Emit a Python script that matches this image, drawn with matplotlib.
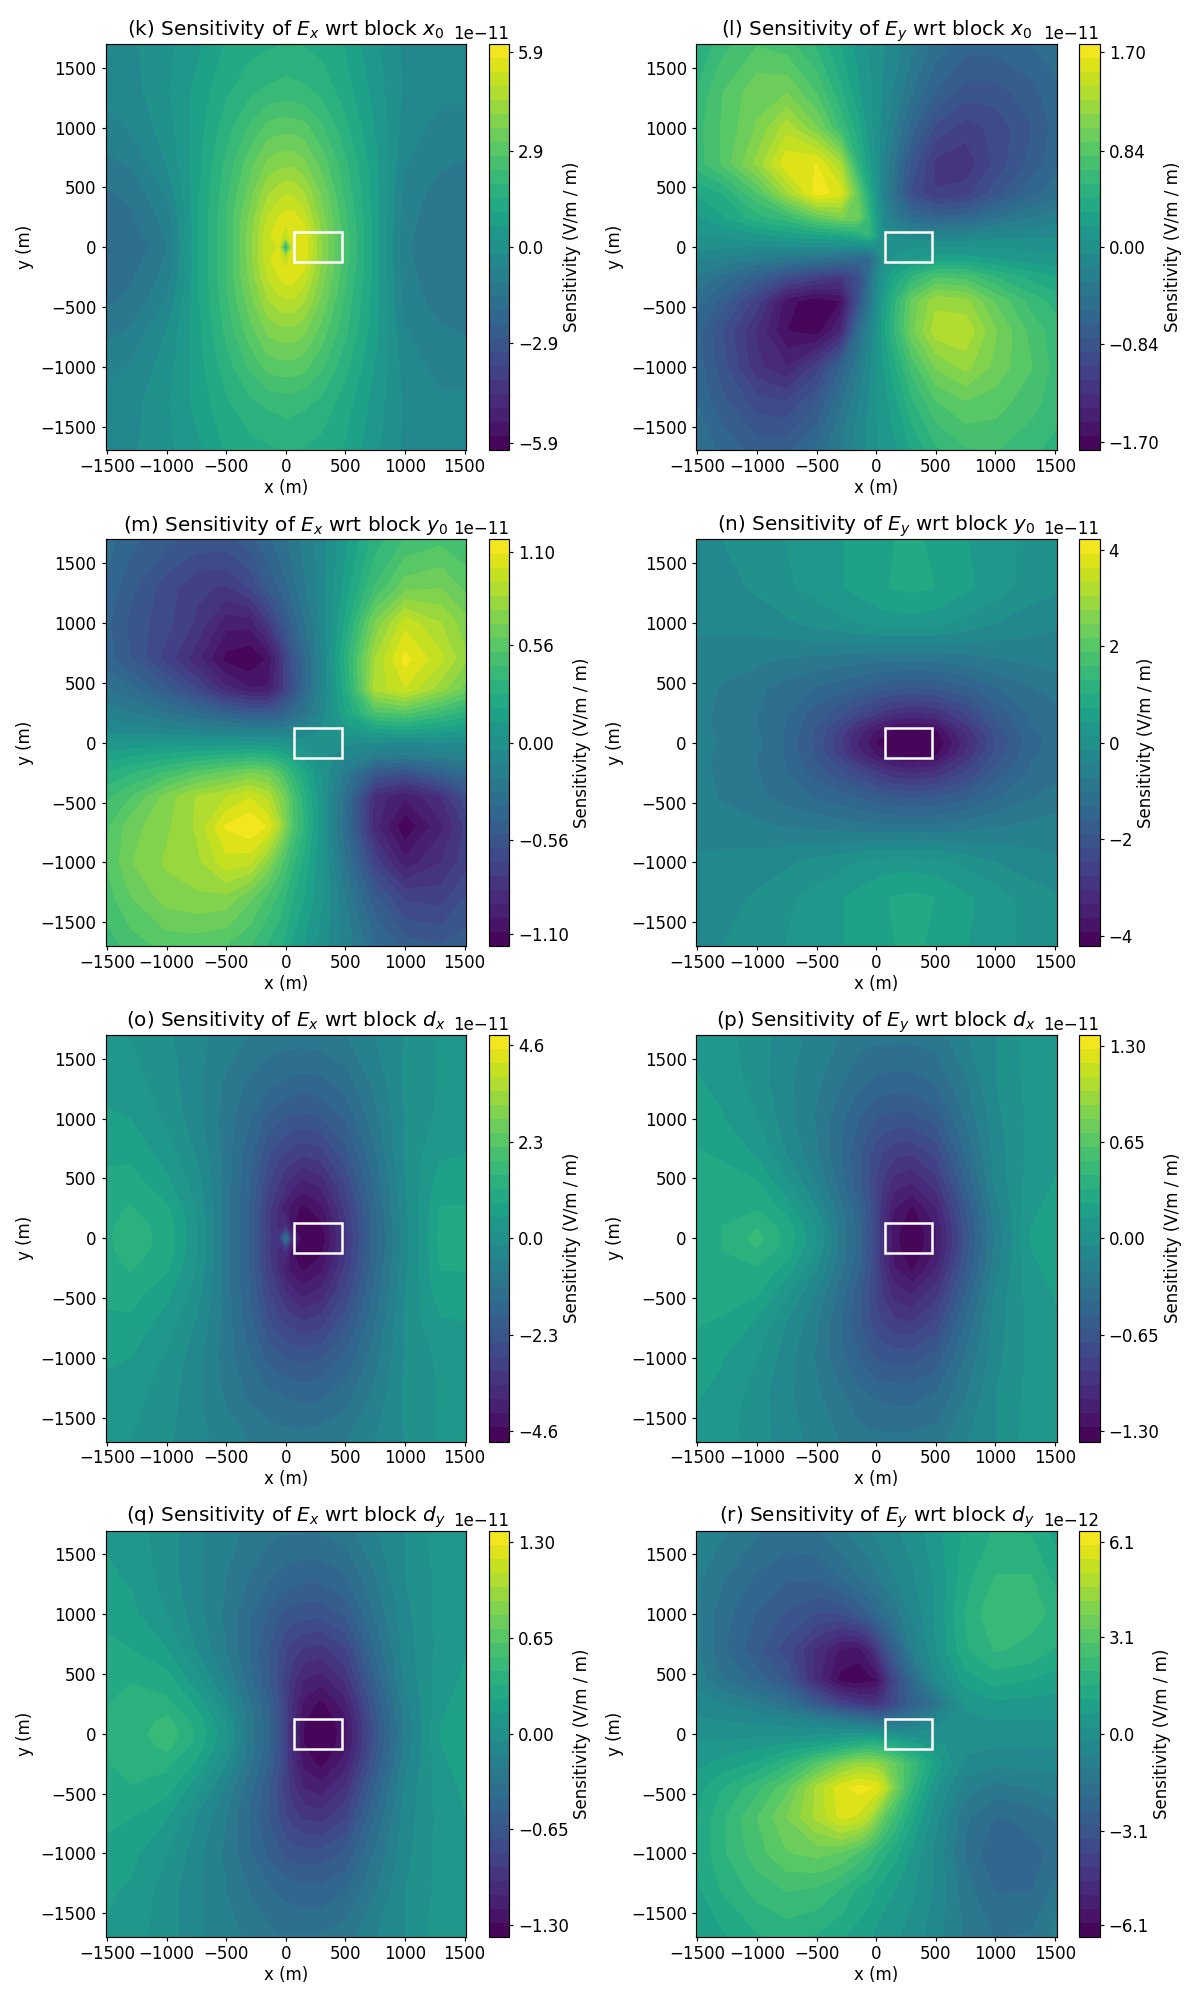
import numpy as np
import matplotlib
matplotlib.use("Agg")
import matplotlib.pyplot as plt
from matplotlib.patches import Rectangle

# sample points (m)
xs = [-1512, -1300, -1000, -750, -500, -300, -150, -60, 0, 60, 150, 300, 500, 750, 1000, 1300, 1512]
ys = [1700, 1300, 1000, 700, 450, 250, 100, 0, -100, -250, -450, -700, -1000, -1300, -1700]

# values, one row per y, in units of the panel's scale
ex_x0 = [
    [-0.45, -0.3, 0.1, 0.5, 1.1, 1.3, 1.4, 1.45, 1.5, 1.5, 1.45, 1.3, 1.0, 0.3, -0.3, -0.5, -0.5],
    [-0.5, -0.4, 0.15, 0.75, 1.4, 1.8, 2.0, 2.05, 2.1, 2.05, 2.0, 1.8, 1.25, 0.45, -0.3, -0.55, -0.55],
    [-0.8, -0.6, 0.0, 0.8, 1.7, 2.4, 2.9, 3.0, 3.0, 3.0, 2.9, 2.4, 1.6, 0.6, -0.4, -0.8, -0.8],
    [-1.2, -1.0, -0.2, 0.85, 2.0, 3.0, 3.7, 3.85, 3.9, 3.9, 3.7, 3.0, 2.0, 0.75, -0.6, -1.0, -1.1],
    [-1.55, -1.4, -0.6, 0.9, 2.2, 3.4, 4.4, 4.7, 4.8, 4.8, 4.5, 3.5, 2.2, 0.8, -0.8, -1.25, -1.3],
    [-1.6, -1.55, -0.9, 0.9, 2.3, 3.7, 4.9, 5.3, 5.5, 5.5, 5.1, 3.8, 2.4, 0.85, -0.9, -1.35, -1.4],
    [-1.65, -1.75, -1.0, 0.9, 2.3, 3.8, 5.2, 5.5, 5.0, 5.6, 5.6, 4.0, 2.5, 0.85, -0.95, -1.4, -1.45],
    [-1.65, -1.95, -1.1, 0.9, 2.3, 3.8, 5.2, 5.3, 1.2, 5.4, 5.7, 4.0, 2.5, 0.85, -1.0, -1.4, -1.45],
    [-1.65, -1.75, -1.0, 0.9, 2.3, 3.8, 5.2, 5.5, 5.0, 5.6, 5.6, 4.0, 2.5, 0.85, -0.95, -1.4, -1.45],
    [-1.6, -1.55, -0.9, 0.9, 2.3, 3.7, 4.9, 5.3, 5.5, 5.5, 5.1, 3.8, 2.4, 0.85, -0.9, -1.35, -1.4],
    [-1.55, -1.4, -0.6, 0.9, 2.2, 3.4, 4.4, 4.7, 4.8, 4.8, 4.5, 3.5, 2.2, 0.8, -0.8, -1.25, -1.3],
    [-1.2, -1.0, -0.2, 0.85, 2.0, 3.0, 3.7, 3.85, 3.9, 3.9, 3.7, 3.0, 2.0, 0.75, -0.6, -1.0, -1.1],
    [-0.8, -0.6, 0.0, 0.8, 1.7, 2.4, 2.9, 3.0, 3.0, 3.0, 2.9, 2.4, 1.6, 0.6, -0.4, -0.8, -0.8],
    [-0.5, -0.4, 0.15, 0.75, 1.4, 1.8, 2.0, 2.05, 2.1, 2.05, 2.0, 1.8, 1.25, 0.45, -0.3, -0.55, -0.55],
    [-0.45, -0.3, 0.1, 0.5, 1.1, 1.3, 1.4, 1.45, 1.5, 1.5, 1.45, 1.3, 1.0, 0.3, -0.3, -0.5, -0.5],
]
ey_x0 = [
    [0.40, 0.62, 0.78, 0.72, 0.52, 0.30, 0.14, 0.05, 0.0, -0.05, -0.12, -0.28, -0.48, -0.62, -0.62, -0.55, -0.48],
    [0.55, 0.78, 1.0, 1.02, 0.78, 0.45, 0.2, 0.08, 0.0, -0.08, -0.2, -0.42, -0.68, -0.85, -0.85, -0.72, -0.58],
    [0.62, 0.8, 1.05, 1.35, 1.05, 0.64, 0.35, 0.12, 0.0, -0.12, -0.3, -0.62, -0.95, -1.1, -1.0, -0.8, -0.62],
    [0.6, 0.8, 1.2, 1.62, 1.65, 1.3, 0.5, 0.2, 0.02, -0.18, -0.42, -0.85, -1.2, -1.25, -1.0, -0.75, -0.58],
    [0.32, 0.42, 0.78, 1.25, 1.7, 1.6, 0.9, 0.4, 0.1, -0.2, -0.5, -0.95, -1.15, -1.1, -0.85, -0.6, -0.48],
    [0.15, 0.28, 0.5, 0.62, 0.9, 1.05, 1.0, 0.55, 0.2, -0.1, -0.32, -0.55, -0.65, -0.62, -0.45, -0.32, -0.25],
    [0.05, 0.08, 0.15, 0.22, 0.28, 0.32, 0.4, 0.55, 0.25, -0.03, -0.07, -0.12, -0.18, -0.18, -0.12, -0.1, -0.08],
    [-0.05, -0.05, -0.08, -0.08, -0.08, -0.08, -0.1, -0.1, 0.0, 0.0, 0.0, 0.05, 0.05, 0.05, 0.05, 0.03, 0.02],
    [-0.18, -0.22, -0.3, -0.38, -0.45, -0.5, -0.6, -0.65, -0.3, 0.0, 0.08, 0.15, 0.25, 0.25, 0.18, 0.12, 0.1],
    [-0.32, -0.48, -0.72, -0.95, -1.1, -1.2, -0.95, -0.5, -0.15, 0.1, 0.3, 0.55, 0.78, 0.75, 0.55, 0.38, 0.3],
    [-0.5, -0.72, -1.1, -1.6, -1.74, -1.65, -0.9, -0.4, -0.1, 0.2, 0.5, 0.95, 1.25, 1.2, 0.9, 0.62, 0.5],
    [-0.62, -0.9, -1.3, -1.65, -1.72, -1.4, -0.55, -0.2, 0.02, 0.25, 0.55, 1.0, 1.35, 1.38, 1.05, 0.75, 0.6],
    [-0.6, -0.85, -1.25, -1.4, -1.1, -0.68, -0.32, -0.1, 0.05, 0.18, 0.38, 0.72, 1.05, 1.2, 1.0, 0.8, 0.62],
    [-0.55, -0.75, -0.98, -1.02, -0.8, -0.45, -0.18, -0.05, 0.05, 0.12, 0.25, 0.52, 0.78, 0.9, 0.85, 0.72, 0.6],
    [-0.42, -0.58, -0.72, -0.7, -0.52, -0.3, -0.12, -0.02, 0.05, 0.08, 0.15, 0.32, 0.52, 0.65, 0.68, 0.58, 0.5],
]
ex_y0 = [
    [-0.32, -0.42, -0.5, -0.55, -0.55, -0.48, -0.38, -0.32, -0.28, -0.24, -0.18, -0.08, 0.1, 0.32, 0.45, 0.5, 0.45],
    [-0.38, -0.5, -0.65, -0.75, -0.78, -0.68, -0.52, -0.44, -0.38, -0.32, -0.22, -0.08, 0.15, 0.45, 0.65, 0.68, 0.58],
    [-0.42, -0.55, -0.66, -0.78, -0.98, -0.98, -0.78, -0.62, -0.52, -0.42, -0.3, -0.1, 0.22, 0.7, 0.98, 0.85, 0.72],
    [-0.4, -0.52, -0.72, -0.9, -1.12, -1.16, -1.08, -0.88, -0.72, -0.58, -0.4, -0.12, 0.3, 0.85, 1.12, 0.95, 0.78],
    [-0.28, -0.35, -0.5, -0.68, -0.9, -1.0, -1.0, -0.85, -0.72, -0.6, -0.42, -0.12, 0.25, 0.88, 1.0, 0.8, 0.65],
    [-0.15, -0.2, -0.28, -0.35, -0.45, -0.52, -0.52, -0.48, -0.42, -0.36, -0.28, -0.1, 0.2, 0.5, 0.55, 0.42, 0.32],
    [-0.06, -0.08, -0.1, -0.12, -0.14, -0.16, -0.16, -0.16, -0.15, -0.13, -0.1, -0.04, 0.08, 0.15, 0.18, 0.14, 0.12],
    [0.06, 0.06, 0.06, 0.06, 0.06, 0.06, 0.05, 0.04, 0.02, 0.01, 0.0, -0.02, -0.03, -0.05, -0.06, -0.05, -0.04],
    [0.15, 0.18, 0.22, 0.25, 0.28, 0.3, 0.28, 0.24, 0.2, 0.15, 0.08, 0.0, -0.08, -0.18, -0.2, -0.16, -0.13],
    [0.28, 0.35, 0.45, 0.55, 0.62, 0.68, 0.65, 0.55, 0.45, 0.35, 0.22, 0.03, -0.22, -0.52, -0.6, -0.45, -0.35],
    [0.42, 0.52, 0.72, 0.85, 0.92, 1.0, 0.9, 0.75, 0.65, 0.5, 0.32, 0.05, -0.32, -0.88, -1.0, -0.85, -0.62],
    [0.5, 0.65, 0.75, 0.86, 1.1, 1.16, 1.08, 0.88, 0.7, 0.52, 0.36, 0.05, -0.35, -0.9, -1.16, -0.95, -0.75],
    [0.52, 0.68, 0.78, 0.82, 0.98, 0.95, 0.75, 0.58, 0.48, 0.38, 0.26, 0.05, -0.28, -0.72, -0.98, -0.85, -0.72],
    [0.48, 0.6, 0.72, 0.75, 0.74, 0.62, 0.5, 0.42, 0.35, 0.28, 0.2, 0.05, -0.2, -0.5, -0.7, -0.72, -0.6],
    [0.4, 0.48, 0.55, 0.55, 0.52, 0.45, 0.35, 0.3, 0.25, 0.18, 0.12, 0.0, -0.15, -0.35, -0.48, -0.52, -0.48],
]
ey_y0 = [
    [-0.2, -0.15, 0.05, 0.15, 0.3, 0.42, 0.5, 0.55, 0.6, 0.65, 0.72, 0.8, 0.65, 0.45, 0.28, 0.05, -0.05],
    [-0.3, -0.25, -0.1, 0.1, 0.25, 0.4, 0.55, 0.6, 0.65, 0.7, 0.75, 0.8, 0.72, 0.5, 0.3, 0.0, -0.1],
    [-0.35, -0.35, -0.3, -0.2, -0.05, 0.05, 0.15, 0.2, 0.25, 0.28, 0.3, 0.3, 0.25, 0.05, -0.15, -0.3, -0.4],
    [-0.6, -0.6, -0.65, -0.75, -0.8, -0.85, -0.9, -0.92, -0.95, -0.95, -0.95, -0.95, -0.95, -0.85, -0.75, -0.65, -0.6],
    [-0.6, -0.75, -0.95, -1.15, -1.35, -1.5, -1.65, -1.72, -1.8, -1.85, -1.9, -1.95, -1.9, -1.7, -1.35, -1.05, -0.9],
    [-0.6, -0.8, -1.0, -1.3, -1.75, -2.1, -2.4, -2.55, -2.7, -2.85, -3.0, -3.1, -3.0, -2.45, -1.8, -1.25, -1.1],
    [-0.6, -0.8, -1.0, -1.35, -1.95, -2.6, -3.2, -3.5, -3.7, -3.85, -4.0, -4.1, -4.0, -3.0, -2.1, -1.35, -1.2],
    [-0.6, -0.75, -0.95, -1.35, -2.0, -2.7, -3.4, -3.7, -3.95, -4.05, -4.2, -4.2, -4.2, -3.2, -2.2, -1.4, -1.2],
    [-0.6, -0.8, -1.0, -1.35, -1.95, -2.6, -3.2, -3.5, -3.7, -3.85, -4.0, -4.1, -4.0, -3.0, -2.1, -1.35, -1.2],
    [-0.6, -0.8, -1.0, -1.3, -1.75, -2.1, -2.4, -2.55, -2.7, -2.85, -3.0, -3.1, -3.0, -2.45, -1.8, -1.25, -1.1],
    [-0.6, -0.75, -0.95, -1.15, -1.35, -1.5, -1.65, -1.72, -1.8, -1.85, -1.9, -1.95, -1.9, -1.7, -1.35, -1.05, -0.9],
    [-0.6, -0.6, -0.65, -0.75, -0.8, -0.85, -0.9, -0.92, -0.95, -0.95, -0.95, -0.95, -0.95, -0.85, -0.75, -0.65, -0.6],
    [-0.35, -0.35, -0.3, -0.2, -0.05, 0.05, 0.15, 0.2, 0.25, 0.28, 0.3, 0.3, 0.25, 0.05, -0.15, -0.3, -0.4],
    [-0.3, -0.25, -0.1, 0.1, 0.25, 0.4, 0.55, 0.6, 0.65, 0.7, 0.75, 0.8, 0.72, 0.5, 0.3, 0.0, -0.1],
    [-0.2, -0.15, 0.05, 0.15, 0.3, 0.42, 0.5, 0.55, 0.6, 0.65, 0.72, 0.8, 0.65, 0.45, 0.28, 0.05, -0.05],
]
ex_dx = [
    [0.2, 0.15, -0.1, -0.4, -0.65, -0.85, -0.95, -1.0, -1.0, -1.0, -1.0, -0.95, -0.85, -0.5, -0.15, 0.2, 0.2],
    [0.4, 0.3, 0.0, -0.4, -0.9, -1.25, -1.45, -1.5, -1.55, -1.6, -1.65, -1.6, -1.35, -0.75, -0.1, 0.2, 0.2],
    [0.55, 0.5, 0.1, -0.35, -1.0, -1.5, -1.95, -2.1, -2.2, -2.25, -2.3, -2.2, -1.8, -0.95, -0.15, 0.25, 0.3],
    [0.75, 0.75, 0.35, -0.2, -1.0, -1.75, -2.45, -2.75, -2.9, -3.0, -3.15, -3.0, -2.3, -1.2, -0.1, 0.45, 0.5],
    [0.95, 1.0, 0.6, 0.0, -1.0, -1.85, -2.8, -3.2, -3.5, -3.75, -4.0, -3.75, -2.8, -1.4, -0.2, 0.7, 0.75],
    [1.05, 1.2, 0.9, 0.15, -1.0, -1.9, -3.0, -3.6, -4.1, -4.4, -4.6, -4.3, -3.1, -1.55, -0.25, 0.85, 0.85],
    [1.1, 1.3, 1.05, 0.2, -1.0, -1.9, -3.1, -3.6, -3.5, -4.5, -4.8, -4.6, -3.25, -1.6, -0.3, 0.9, 0.9],
    [1.1, 1.35, 1.05, 0.2, -1.0, -1.9, -3.1, -3.4, -1.2, -3.8, -4.8, -4.8, -3.3, -1.6, -0.3, 0.95, 0.9],
    [1.1, 1.3, 1.05, 0.2, -1.0, -1.9, -3.1, -3.6, -3.5, -4.5, -4.8, -4.6, -3.25, -1.6, -0.3, 0.9, 0.9],
    [1.05, 1.2, 0.9, 0.15, -1.0, -1.9, -3.0, -3.6, -4.1, -4.4, -4.6, -4.3, -3.1, -1.55, -0.25, 0.85, 0.85],
    [0.95, 1.0, 0.6, 0.0, -1.0, -1.85, -2.8, -3.2, -3.5, -3.75, -4.0, -3.75, -2.8, -1.4, -0.2, 0.7, 0.75],
    [0.75, 0.75, 0.35, -0.2, -1.0, -1.75, -2.45, -2.75, -2.9, -3.0, -3.15, -3.0, -2.3, -1.2, -0.1, 0.45, 0.5],
    [0.55, 0.5, 0.1, -0.35, -1.0, -1.5, -1.95, -2.1, -2.2, -2.25, -2.3, -2.2, -1.8, -0.95, -0.15, 0.25, 0.3],
    [0.4, 0.3, 0.0, -0.4, -0.9, -1.25, -1.45, -1.5, -1.55, -1.6, -1.65, -1.6, -1.35, -0.75, -0.1, 0.2, 0.2],
    [0.2, 0.15, -0.1, -0.4, -0.65, -0.85, -0.95, -1.0, -1.0, -1.0, -1.0, -0.95, -0.85, -0.5, -0.15, 0.2, 0.2],
]
ey_dx = [
    [0.12, 0.08, 0.0, -0.1, -0.18, -0.24, -0.28, -0.3, -0.3, -0.3, -0.3, -0.3, -0.28, -0.15, -0.05, 0.1, 0.1],
    [0.15, 0.12, 0.0, -0.12, -0.22, -0.32, -0.4, -0.43, -0.45, -0.46, -0.47, -0.47, -0.42, -0.25, -0.05, 0.08, 0.1],
    [0.18, 0.15, 0.05, -0.1, -0.25, -0.4, -0.52, -0.58, -0.62, -0.64, -0.65, -0.65, -0.58, -0.32, -0.08, 0.08, 0.13],
    [0.25, 0.22, 0.13, -0.05, -0.22, -0.42, -0.6, -0.7, -0.77, -0.82, -0.88, -0.9, -0.78, -0.42, -0.1, 0.08, 0.13],
    [0.3, 0.3, 0.25, 0.07, -0.15, -0.38, -0.58, -0.72, -0.82, -0.92, -1.05, -1.1, -0.95, -0.52, -0.12, 0.1, 0.15],
    [0.3, 0.32, 0.32, 0.2, -0.05, -0.3, -0.5, -0.68, -0.82, -0.98, -1.18, -1.3, -1.1, -0.62, -0.18, 0.12, 0.18],
    [0.3, 0.33, 0.42, 0.28, 0.03, -0.27, -0.46, -0.66, -0.82, -1.0, -1.23, -1.36, -1.18, -0.66, -0.2, 0.14, 0.19],
    [0.3, 0.33, 0.46, 0.3, 0.05, -0.27, -0.46, -0.65, -0.82, -1.0, -1.25, -1.37, -1.2, -0.68, -0.22, 0.15, 0.2],
    [0.3, 0.33, 0.42, 0.28, 0.03, -0.27, -0.46, -0.66, -0.82, -1.0, -1.23, -1.36, -1.18, -0.66, -0.2, 0.14, 0.19],
    [0.3, 0.32, 0.32, 0.2, -0.05, -0.3, -0.5, -0.68, -0.82, -0.98, -1.18, -1.3, -1.1, -0.62, -0.18, 0.12, 0.18],
    [0.3, 0.3, 0.25, 0.07, -0.15, -0.38, -0.58, -0.72, -0.82, -0.92, -1.05, -1.1, -0.95, -0.52, -0.12, 0.1, 0.15],
    [0.25, 0.22, 0.13, -0.05, -0.22, -0.42, -0.6, -0.7, -0.77, -0.82, -0.88, -0.9, -0.78, -0.42, -0.1, 0.08, 0.13],
    [0.18, 0.15, 0.05, -0.1, -0.25, -0.4, -0.52, -0.58, -0.62, -0.64, -0.65, -0.65, -0.58, -0.32, -0.08, 0.08, 0.13],
    [0.15, 0.12, 0.0, -0.12, -0.22, -0.32, -0.4, -0.43, -0.45, -0.46, -0.47, -0.47, -0.42, -0.25, -0.05, 0.08, 0.1],
    [0.12, 0.08, 0.0, -0.1, -0.18, -0.24, -0.28, -0.3, -0.3, -0.3, -0.3, -0.3, -0.28, -0.15, -0.05, 0.1, 0.1],
]
ex_dy = [
    [0.13, 0.09, 0.0, -0.12, -0.2, -0.26, -0.3, -0.32, -0.32, -0.32, -0.32, -0.32, -0.28, -0.15, -0.05, 0.1, 0.1],
    [0.16, 0.13, 0.0, -0.12, -0.24, -0.34, -0.42, -0.45, -0.47, -0.48, -0.5, -0.5, -0.44, -0.25, -0.05, 0.08, 0.1],
    [0.2, 0.17, 0.05, -0.1, -0.26, -0.42, -0.54, -0.6, -0.65, -0.67, -0.68, -0.68, -0.6, -0.32, -0.08, 0.08, 0.14],
    [0.27, 0.24, 0.15, -0.05, -0.24, -0.44, -0.62, -0.72, -0.8, -0.86, -0.92, -0.95, -0.82, -0.42, -0.1, 0.08, 0.14],
    [0.32, 0.33, 0.28, 0.08, -0.16, -0.4, -0.6, -0.75, -0.86, -0.97, -1.1, -1.15, -0.98, -0.52, -0.12, 0.1, 0.16],
    [0.33, 0.35, 0.36, 0.22, -0.05, -0.32, -0.52, -0.7, -0.86, -1.02, -1.22, -1.32, -1.14, -0.62, -0.18, 0.12, 0.19],
    [0.33, 0.36, 0.46, 0.3, 0.04, -0.28, -0.48, -0.68, -0.86, -1.05, -1.28, -1.38, -1.22, -0.66, -0.2, 0.14, 0.2],
    [0.33, 0.36, 0.5, 0.32, 0.06, -0.28, -0.48, -0.68, -0.86, -1.05, -1.3, -1.38, -1.24, -0.68, -0.22, 0.15, 0.21],
    [0.33, 0.36, 0.46, 0.3, 0.04, -0.28, -0.48, -0.68, -0.86, -1.05, -1.28, -1.38, -1.22, -0.66, -0.2, 0.14, 0.2],
    [0.33, 0.35, 0.36, 0.22, -0.05, -0.32, -0.52, -0.7, -0.86, -1.02, -1.22, -1.32, -1.14, -0.62, -0.18, 0.12, 0.19],
    [0.32, 0.33, 0.28, 0.08, -0.16, -0.4, -0.6, -0.75, -0.86, -0.97, -1.1, -1.15, -0.98, -0.52, -0.12, 0.1, 0.16],
    [0.27, 0.24, 0.15, -0.05, -0.24, -0.44, -0.62, -0.72, -0.8, -0.86, -0.92, -0.95, -0.82, -0.42, -0.1, 0.08, 0.14],
    [0.2, 0.17, 0.05, -0.1, -0.26, -0.42, -0.54, -0.6, -0.65, -0.67, -0.68, -0.68, -0.6, -0.32, -0.08, 0.08, 0.14],
    [0.16, 0.13, 0.0, -0.12, -0.24, -0.34, -0.42, -0.45, -0.47, -0.48, -0.5, -0.5, -0.44, -0.25, -0.05, 0.08, 0.1],
    [0.13, 0.09, 0.0, -0.12, -0.2, -0.26, -0.3, -0.32, -0.32, -0.32, -0.32, -0.32, -0.28, -0.15, -0.05, 0.1, 0.1],
]
ey_dy = [
    [-0.6, -1.0, -1.5, -1.7, -1.6, -1.2, -0.9, -0.75, -0.6, -0.45, -0.3, -0.05, 0.5, 1.2, 1.6, 1.5, 0.9],
    [-1.0, -1.5, -2.1, -2.4, -2.4, -2.0, -1.6, -1.4, -1.2, -1.0, -0.7, -0.3, 0.3, 1.4, 2.05, 2.05, 1.4],
    [-1.0, -1.8, -2.5, -3.0, -3.4, -3.4, -2.9, -2.5, -2.1, -1.8, -1.4, -0.6, 0.3, 1.6, 2.45, 2.15, 1.9],
    [-1.0, -1.9, -2.8, -3.6, -4.8, -5.7, -5.8, -5.2, -4.4, -3.6, -2.6, -1.0, 0.2, 1.5, 2.05, 1.9, 1.5],
    [-0.85, -1.5, -2.2, -3.0, -4.9, -6.2, -6.4, -6.2, -6.1, -5.2, -3.8, -2.1, -0.3, 0.9, 1.3, 1.1, 0.9],
    [-0.4, -0.65, -1.1, -1.7, -2.9, -3.9, -4.3, -4.5, -4.5, -4.2, -3.6, -2.6, -1.6, 0.3, 0.55, 0.5, 0.45],
    [-0.15, -0.2, -0.3, -0.45, -0.7, -0.95, -1.3, -1.5, -1.7, -1.75, -1.6, -1.2, -0.4, 0.1, 0.2, 0.2, 0.2],
    [0.05, 0.05, 0.1, 0.1, 0.15, 0.2, 0.3, 0.3, 0.2, 0.12, 0.05, -0.1, -0.05, 0.0, 0.0, 0.0, 0.0],
    [0.3, 0.35, 0.55, 0.75, 1.0, 1.4, 1.8, 2.0, 1.9, 1.8, 1.5, 1.0, 0.35, -0.1, -0.2, -0.2, -0.2],
    [0.55, 0.8, 1.2, 1.9, 3.0, 3.9, 4.4, 4.4, 4.3, 4.0, 3.4, 2.4, 0.9, -0.35, -0.55, -0.5, -0.5],
    [0.9, 1.5, 2.3, 3.2, 4.8, 5.9, 6.2, 6.1, 6.0, 5.4, 3.9, 2.0, 0.3, -0.9, -1.3, -1.1, -0.9],
    [1.05, 1.9, 2.9, 3.8, 4.8, 5.7, 5.5, 4.9, 4.1, 3.3, 2.5, 1.2, -0.1, -1.5, -2.05, -1.9, -1.5],
    [1.1, 1.9, 2.7, 3.3, 3.5, 3.3, 2.8, 2.4, 2.0, 1.7, 1.3, 0.6, -0.35, -1.6, -2.45, -2.15, -1.9],
    [1.0, 1.6, 2.2, 2.5, 2.4, 2.0, 1.5, 1.3, 1.1, 0.9, 0.7, 0.3, -0.3, -1.4, -2.05, -2.05, -1.4],
    [0.6, 1.0, 1.5, 1.7, 1.5, 1.2, 0.9, 0.75, 0.55, 0.4, 0.3, 0.05, -0.5, -1.2, -1.6, -1.5, -0.9],
]

titles = [
    r"(k) Sensitivity of $E_x$ wrt block $x_0$",
    r"(l) Sensitivity of $E_y$ wrt block $x_0$",
    r"(m) Sensitivity of $E_x$ wrt block $y_0$",
    r"(n) Sensitivity of $E_y$ wrt block $y_0$",
    r"(o) Sensitivity of $E_x$ wrt block $d_x$",
    r"(p) Sensitivity of $E_y$ wrt block $d_x$",
    r"(q) Sensitivity of $E_x$ wrt block $d_y$",
    r"(r) Sensitivity of $E_y$ wrt block $d_y$",
]
fields = [ex_x0, ey_x0, ex_y0, ey_y0, ex_dx, ey_dx, ex_dy, ey_dy]
scales = [1e-11, 1e-11, 1e-11, 1e-11, 1e-11, 1e-11, 1e-11, 1e-12]
vmaxs = [6.14, 1.77, 1.17, 4.21, 4.85, 1.372, 1.38, 6.48]
ticks = [
    [-5.9, -2.9, 0, 2.9, 5.9],
    [-1.70, -0.84, 0, 0.84, 1.70],
    [-1.10, -0.56, 0, 0.56, 1.10],
    [-4, -2, 0, 2, 4],
    [-4.6, -2.3, 0, 2.3, 4.6],
    [-1.30, -0.65, 0, 0.65, 1.30],
    [-1.30, -0.65, 0, 0.65, 1.30],
    [-6.1, -3.1, 0, 3.1, 6.1],
]

# block outline
BLOCK_X = 70
BLOCK_Y = -125
BLOCK_W = 400
BLOCK_H = 250

W = 1200
H = 2000
# pixel layout of the panels
AX_LEFT = [105.5, 696]
AX_W = 360.5
CB_GAP = 22.5
CB_W = 20.5
AX_TOP = [44, 539.5, 1035, 1530.5]
AX_H = 406.5

plt.rcParams["xtick.major.size"] = 2.5
plt.rcParams["ytick.major.size"] = 2.5
plt.rcParams["xtick.major.pad"] = 2.2
plt.rcParams["ytick.major.pad"] = 3
plt.rcParams["axes.linewidth"] = 0.7
plt.rcParams["xtick.major.width"] = 0.7
plt.rcParams["ytick.major.width"] = 0.7

fig = plt.figure(figsize=(W / 120, H / 120), dpi=120)
X, Y = np.meshgrid(xs, ys)
for i in range(8):
    col = i % 2
    row = i // 2
    bottom = (H - AX_TOP[row] - AX_H) / H
    ax = fig.add_axes([AX_LEFT[col] / W, bottom, AX_W / W, AX_H / H])
    cax = fig.add_axes([(AX_LEFT[col] + AX_W + CB_GAP) / W, bottom, CB_W / W, AX_H / H])
    Z = np.array(fields[i]) * scales[i]
    levels = np.linspace(-vmaxs[i], vmaxs[i], 30) * scales[i]
    cf = ax.contourf(X, Y, Z, levels=levels, cmap="viridis")
    ax.add_patch(Rectangle((BLOCK_X, BLOCK_Y), BLOCK_W, BLOCK_H, fill=False, edgecolor="white", linewidth=1.5))
    ax.set_xlim(-1512, 1512)
    ax.set_ylim(-1700, 1700)
    ax.set_xlabel("x (m)", labelpad=1.7)
    ax.set_ylabel("y (m)")
    ax.set_title(titles[i], pad=5.2)
    cbar = fig.colorbar(cf, cax=cax, ticks=[t * scales[i] for t in ticks[i]])
    cbar.set_label("Sensitivity (V/m / m)", labelpad=2.5)

fig.savefig("out.png", dpi=120)
